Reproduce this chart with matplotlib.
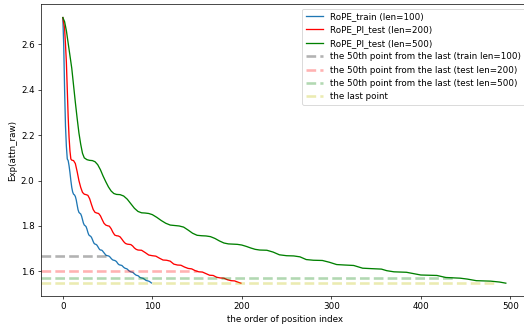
import matplotlib
matplotlib.use("Agg")
import matplotlib.pyplot as plt

# ---- data ----
blue_x = list(range(0, 100))
blue_y = [2.718, 2.60, 2.40, 2.24, 2.15, 2.095, 2.088, 2.065, 2.035, 2.000,
          1.970, 1.950, 1.940, 1.937, 1.930, 1.915, 1.893, 1.872, 1.860, 1.856,
          1.853, 1.843, 1.828, 1.813, 1.804, 1.801, 1.797, 1.786, 1.772, 1.761,
          1.757, 1.755, 1.750, 1.741, 1.731, 1.723, 1.720, 1.719, 1.716, 1.710,
          1.703, 1.697, 1.694, 1.694, 1.692, 1.687, 1.682, 1.677, 1.672, 1.670,
          1.669, 1.668, 1.666, 1.662, 1.657, 1.653, 1.650, 1.649, 1.648, 1.646,
          1.643, 1.637, 1.632, 1.629, 1.628, 1.627, 1.626, 1.622, 1.618, 1.615,
          1.613, 1.612, 1.610, 1.606, 1.602, 1.600, 1.598, 1.597, 1.596, 1.593,
          1.589, 1.586, 1.583, 1.582, 1.581, 1.578, 1.574, 1.572, 1.571, 1.570,
          1.569, 1.566, 1.563, 1.560, 1.559, 1.558, 1.557, 1.555, 1.552, 1.549]

red_x = [0, 2, 3, 4, 5, 6, 7, 8, 9, 10, 12, 14, 16, 18, 20, 22, 24, 26, 28, 30,
         32, 34, 36, 38, 40, 42, 44, 46, 48, 50, 52, 54, 56, 58, 60, 62, 64, 66,
         68, 70, 72, 74, 76, 78, 80, 82, 84, 88, 92, 96, 100, 104, 108, 112, 116,
         120, 124, 128, 132, 136, 140, 144, 148, 152, 156, 160, 164, 168, 172,
         176, 180, 184, 188, 192, 196, 199]
red_y = [2.718, 2.67, 2.60, 2.52, 2.40, 2.28, 2.19, 2.13, 2.095, 2.090, 2.088,
         2.075, 2.040, 2.000, 1.970, 1.948, 1.940, 1.938, 1.935, 1.920, 1.895,
         1.872, 1.860, 1.857, 1.855, 1.845, 1.828, 1.812, 1.804, 1.801, 1.799,
         1.788, 1.772, 1.760, 1.757, 1.756, 1.752, 1.742, 1.731, 1.723, 1.720,
         1.719, 1.718, 1.712, 1.703, 1.697, 1.694, 1.693, 1.683, 1.672, 1.669,
         1.667, 1.658, 1.650, 1.649, 1.645, 1.632, 1.628, 1.627, 1.619, 1.613,
         1.611, 1.603, 1.598, 1.597, 1.590, 1.583, 1.582, 1.574, 1.571, 1.570,
         1.563, 1.559, 1.558, 1.552, 1.548]

green_x = [0, 2, 4, 6, 8, 10, 12, 14, 16, 18, 20, 22, 24, 27, 30, 33, 36, 39, 42,
           45, 48, 51, 54, 57, 60, 64, 68, 72, 76, 80, 84, 88, 92, 96, 100, 105,
           110, 115, 120, 125, 130, 135, 140, 145, 150, 155, 160, 165, 170, 175,
           180, 185, 190, 195, 200, 205, 210, 215, 220, 228, 235, 242, 250, 258,
           265, 272, 280, 290, 298, 306, 315, 325, 335, 345, 356, 362, 370, 384,
           392, 400, 418, 428, 444, 452, 462, 478, 488, 495]
green_y = [2.718, 2.700, 2.660, 2.605, 2.550, 2.495, 2.420, 2.345, 2.275, 2.210,
           2.160, 2.120, 2.100, 2.092, 2.089, 2.088, 2.083, 2.070, 2.048, 2.020,
           1.995, 1.972, 1.954, 1.943, 1.939, 1.938, 1.932, 1.918, 1.898, 1.878,
           1.864, 1.858, 1.857, 1.855, 1.850, 1.838, 1.824, 1.812, 1.804, 1.802,
           1.800, 1.795, 1.782, 1.768, 1.759, 1.757, 1.756, 1.753, 1.745, 1.734,
           1.725, 1.721, 1.720, 1.719, 1.716, 1.710, 1.703, 1.697, 1.694, 1.693,
           1.685, 1.673, 1.669, 1.668, 1.664, 1.652, 1.649, 1.648, 1.640, 1.630,
           1.628, 1.626, 1.614, 1.612, 1.610, 1.603, 1.598, 1.596, 1.590, 1.584,
           1.582, 1.573, 1.570, 1.566, 1.559, 1.557, 1.553, 1.548]

ref_levels = [1.669, 1.600, 1.570, 1.548]
ref_ends = [50, 150, 437, 484]
ref_labels = ["the 50th point from the last (train len=100)",
              "the 50th point from the last (test len=200)",
              "the 50th point from the last (test len=500)",
              "the last point"]
ref_colors = ["k", "red", "green", "y"]

# ---- figure ----
DPI = 62.7
W, H = 524, 327
fig = plt.figure(figsize=(W / DPI, H / DPI), dpi=DPI)
ax = fig.add_axes([40.7 / W, 31 / H, (529 - 40.7) / W, (296 - 4.3) / H])

xl = (-24.7, 520.9)
ax.plot(blue_x, blue_y, color="#1f77b4", label="RoPE_train (len=100)")
ax.plot(red_x, red_y, color="red", label="RoPE_PI_test (len=200)")
ax.plot(green_x, green_y, color="green", label="RoPE_PI_test (len=500)")
for lev, end, lab, col in zip(ref_levels, ref_ends, ref_labels, ref_colors):
    ax.hlines(lev, xl[0], end, colors=col, alpha=0.3, lw=3,
              linestyles="--", label=lab)

ax.set_xlim(*xl)
ax.set_ylim(1.4915, 2.7765)
ax.set_xticks([0, 100, 200, 300, 400, 500])
ax.set_yticks([1.6, 1.8, 2.0, 2.2, 2.4, 2.6])
ax.set_xlabel("the order of position index")
ax.set_ylabel("Exp(attn_raw)")
ax.legend(loc="upper right")

fig.savefig("out.png", dpi=DPI)
